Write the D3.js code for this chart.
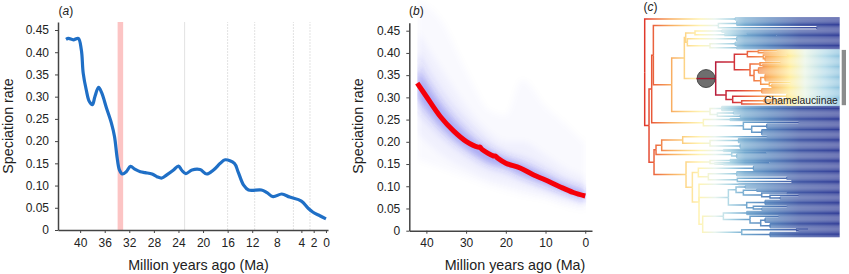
<!DOCTYPE html>
<html>
<head>
<meta charset="utf-8">
<script src="https://cdn.jsdelivr.net/npm/d3@7"></script>
<style>
  html, body { margin: 0; padding: 0; background: #fff; }
  svg { display: block; }
  text { font-family: "Liberation Sans", Arial, sans-serif; fill: #222; }
</style>
</head>
<body>
<svg id="chart" width="849" height="274"></svg>
<script>
// panel a, rate through time
const curveAges = [42.3, 41.9, 41.1, 40.3, 39.8, 39.5, 39.0, 38.5, 38.0, 37.6, 37.0, 36.5, 35.7, 34.9, 34.4, 34.0, 33.6, 33.1, 32.5, 31.8, 31.1, 30.2, 29.4, 28.3, 27.5, 26.7, 25.9, 24.8, 24.0, 23.5, 22.8, 21.8, 20.5, 19.4, 18.3, 17.2, 16.4, 14.9, 14.3, 13.4, 12.6, 10.5, 9.6, 8.6, 7.2, 5.9, 4.0, 2.9, 2.1, 1.0, 0];
const curveRates = [.429, .431, .428, .431, .405, .353, .315, .289, .282, .300, .321, .309, .274, .240, .210, .165, .135, .126, .131, .143, .137, .131, .129, .126, .120, .117, .124, .135, .144, .135, .127, .135, .136, .126, .135, .150, .158, .150, .131, .101, .090, .090, .084, .075, .081, .074, .065, .049, .040, .032, .025];
const epochLines = [23, 16, 11.6, 5.3, 2.6];
const eotBand = [33.9, 33.0];
const aTicks = [40, 36, 32, 28, 24, 20, 16, 12, 8, 4, 2, 0];

// panel b, median and nested density bands
const medianAges = [42.3, 40, 36.5, 33.1, 30, 27, 26.5, 26, 23.1, 22.6, 22, 20, 16.4, 13.1, 10, 6.4, 3, 0];
const medianRates = [.332, .302, .257, .224, .201, .188, .188, .183, .168, .168, .163, .152, .141, .126, .114, .099, .086, .078];
const bandAges = [42.3, 36, 30, 24, 20, 16, 10, 5, 0];
const bandUpper = [
  [.52, .47, .36, .27, .26, .34, .28, .24, .197],
  [.45, .36, .28, .22, .20, .20, .17, .14, .12],
  [.40, .31, .245, .195, .175, .165, .14, .115, .10],
  [.365, .28, .22, .18, .163, .15, .125, .104, .088]
];
const bandLower = [
  [.16, .14, .12, .10, .09, .08, .07, .055, .046],
  [.22, .17, .14, .115, .105, .095, .08, .065, .055],
  [.27, .21, .17, .14, .13, .115, .095, .08, .065],
  [.30, .23, .185, .152, .142, .125, .104, .086, .07]
];
const bTicks = [40, 30, 20, 10, 0];
const rateTicks = [0, .05, .10, .15, .20, .25, .30, .35, .40, .45];

// panel c, tree: [depth, ...kids], [depth, n] is n tips from one node
const tipDepth = 629;
const chamelauciinae = [257,
  [313,
    [352, [385, [440, 2], [400, 2]], [400, [470, 2], [405, 5]]],
    [360, [390, [450, 2], [398, 3]], [372, [385, 6], [392, [405, 7], [418, [480, 2], [425, 4]]]]]],
  [288, [395, 5],
    [308, [470, 5], [335, [400, 3], [470, 3]]]]
];
const cladeE = [167,
  [195, [275, 3], [285, [350, 2], [440, 1]]],
  [172, [320, 5], [240, [315, 4], [320, 3]]]
];
const cladeJ = [125,
  [163, cladeE, [200, chamelauciinae]],
  [240, [275, 5], [262, [310, 3], [330, 3]]]
];
const cladeD = [220, [300, 3], [340, [505, 2], [365, [410, 5], [395, 6]]]];
const cladeF = [78,
  [95, [158, [410, 2], [240, [325, 5], [330, 5]]], [280, 3]],
  [305, [410, 1], [320, 5]]
];
const cladeL = [207,
  [325, 2],
  [295,
    [318, [345, 3], [340, [380, 3], [395, [470, 2], [420, [505, 2], [450, 3]]]]],
    [350, [405, 5], [370, [470, 2], [395, 3]]]],
  [218,
    [280, [350, 4], [360, [445, 2], [392, [405, 5], [420, 5]]]],
    [335, [500, [535, 1], [505, 2]], [420, 5]]]
];
const cladeK = [168,
  [240, [300, 3], [255, [418, 1], [280, 2]]],
  [187,
    [205, [370, 5], [235, [320, 5], [322, [470, 3], [485, 3]]]],
    cladeL]
];
const treeData = [44,
  [315, 3],
  [57,
    [65, [70, [265, [320, 5], [560, 3]], cladeJ], cladeD],
    [72, cladeF, cladeK]]
];
const circleDepth = 228;
const mainStops = [[645, "#e0392c"], [655, "#ec6a40"], [670, "#f8a95e"], [685, "#fdd587"], [700, "#fff4b5"], [715, "#e8f4ee"], [730, "#add6e5"], [745, "#74a9cf"], [770, "#5380ba"], [800, "#3f55a3"], [840, "#333f98"]];
const chamStops = [[712, "#b2183b"], [735, "#d4343a"], [750, "#ee6c40"], [770, "#fbb35e"], [790, "#ffee9e"], [805, "#eaf5e6"], [825, "#b6dcea"], [840, "#8fc3de"]];

const svg = d3.select("#chart");
const defs = svg.append("defs");

function drawAxes(g, x, y, xTicks) {
  const xAxis = g.append("g")
    .attr("transform", "translate(0," + y.range()[0] + ")")
    .call(d3.axisBottom(x).tickValues(xTicks).tickSize(3).tickSizeOuter(0).tickPadding(5).tickFormat(d3.format("d")));
  const yAxis = g.append("g")
    .attr("transform", "translate(" + x.range()[0] + ",0)")
    .call(d3.axisLeft(y).tickValues(rateTicks).tickSize(3).tickSizeOuter(0).tickPadding(6)
      .tickFormat(d => d === 0 ? "0" : d3.format(".2f")(d)));
  [xAxis, yAxis].forEach(a => {
    a.selectAll("text").attr("font-size", 12).attr("font-family", "Liberation Sans");
    a.selectAll("path,line").attr("stroke", "#444");
    a.select("path").attr("stroke-width", 1.5);
  });
}

function axisTitles(g, x0, yMid, xMid, letter, letterX) {
  g.append("text").attr("x", xMid).attr("y", 270).attr("text-anchor", "middle")
    .attr("font-size", 14.3).text("Million years ago (Ma)");
  g.append("text").attr("transform", "translate(" + x0 + "," + yMid + ") rotate(-90)")
    .attr("text-anchor", "middle").attr("font-size", 14.3).text("Speciation rate");
  const t = g.append("text").attr("x", letterX).attr("y", 15).attr("font-size", 12);
  t.append("tspan").text("(");
  t.append("tspan").attr("font-style", "italic").text(letter);
  t.append("tspan").text(")");
}

// (a)
const gA = svg.append("g");
const xA = d3.scaleLinear().domain([43.6, -0.33]).range([58, 328]);
const yA = d3.scaleLinear().domain([0, .468]).range([230, 22]);

gA.append("rect")
  .attr("x", xA(eotBand[0])).attr("y", yA.range()[1])
  .attr("width", xA(eotBand[1]) - xA(eotBand[0]))
  .attr("height", yA.range()[0] - yA.range()[1])
  .attr("fill", "#fcc4c4");
gA.selectAll(".epoch").data(epochLines).enter().append("line")
  .attr("class", "epoch")
  .attr("x1", d => xA(d)).attr("x2", d => xA(d))
  .attr("y1", yA.range()[0]).attr("y2", yA.range()[1])
  .attr("stroke", "#e2e2e2").attr("stroke-width", 1)
  .attr("stroke-dasharray", (d, i) => i === 0 ? null : "2,1");

drawAxes(gA, xA, yA, aTicks);

const lineA = d3.line()
  .x((d, i) => xA(curveAges[i]))
  .y(d => yA(d))
  .curve(d3.curveCatmullRom.alpha(.5));
gA.append("path").datum(curveRates)
  .attr("d", lineA).attr("fill", "none")
  .attr("stroke", "#1f6fc6").attr("stroke-width", 3.2).attr("stroke-linejoin", "round");
axisTitles(gA, 12.5, 126, 198.5, "a", 58.5);

// (b)
const gB = svg.append("g");
const xB = d3.scaleLinear().domain([44.3, -1.7]).range([409.3, 592]);
const yB = d3.scaleLinear().domain([0, .468]).range([230.7, 22.7]);

defs.append("filter").attr("id", "fanBlur")
  .attr("x", "-20%").attr("y", "-20%").attr("width", "140%").attr("height", "140%")
  .append("feGaussianBlur").attr("stdDeviation", 3);
defs.append("clipPath").attr("id", "fanClip")
  .append("rect")
  .attr("x", xB(bandAges[0])).attr("width", xB(0) - xB(bandAges[0]) + 1)
  .attr("y", 0).attr("height", 274);

const bandOpacity = [.025, .035, .1, .32];
const fan = gB.append("g").attr("clip-path", "url(#fanClip)");
bandUpper.forEach((upper, k) => {
  const area = d3.area()
    .x((d, i) => xB(bandAges[i]))
    .y0((d, i) => yB(bandLower[k][i]))
    .y1(d => yB(d))
    .curve(d3.curveMonotoneX);
  fan.append("path").datum(upper)
    .attr("d", area)
    .attr("filter", "url(#fanBlur)")
    .attr("fill", "#3c3ce6").attr("fill-opacity", bandOpacity[k]);
});

drawAxes(gB, xB, yB, bTicks);

const lineB = d3.line()
  .x((d, i) => xB(medianAges[i]))
  .y(d => yB(d))
  .curve(d3.curveCatmullRom.alpha(.5));
gB.append("path").datum(medianRates)
  .attr("d", lineB).attr("fill", "none")
  .attr("stroke", "#f5000a").attr("stroke-width", 5);
axisTitles(gB, 363, 126, 515, "b", 409);

// (c)
function addGradient(id, stops) {
  const grad = defs.append("linearGradient").attr("id", id)
    .attr("gradientUnits", "userSpaceOnUse")
    .attr("x1", stops[0][0]).attr("x2", stops[stops.length - 1][0])
    .attr("y1", 0).attr("y2", 0);
  const pos = d3.scaleLinear().domain([stops[0][0], stops[stops.length - 1][0]]).range([0, 1]);
  stops.forEach(s => grad.append("stop").attr("offset", pos(s[0])).attr("stop-color", s[1]));
}
addGradient("treeMain", mainStops);
addGradient("treeCham", chamStops);

const gC = svg.append("g");
const xC = d3.scaleLinear().domain([44, tipDepth]).range([644.7, 839.7]);
const treeTop = 17.3, treeHeight = 220;

const kidsOf = d => {
  if (d.length === 1) return null;
  if (typeof d[1] === "number") return Array.from({ length: d[1] }, () => [tipDepth]);
  return d.slice(1);
};
const root = d3.hierarchy(treeData, kidsOf);
d3.cluster().size([treeHeight, 1]).separation(() => 1)(root);

const chamRoot = root.descendants().find(n => n.data === chamelauciinae);
const chamNodes = new Set(chamRoot.descendants());

const elbow = n => "M" + xC(n.parent.data[0]) + "," + (treeTop + n.parent.x) +
  "V" + (treeTop + n.x) + "H" + xC(n.data[0]);

// the rest of the tree first, the red clade sits on top
const links = root.descendants().filter(n => n.parent);
gC.selectAll(".branch")
  .data(links.slice().sort((a, b) => chamNodes.has(a) - chamNodes.has(b)))
  .enter().append("path")
  .attr("class", "branch")
  .attr("d", elbow)
  .attr("fill", "none")
  .attr("stroke", n => chamNodes.has(n) ? "url(#treeCham)" : "url(#treeMain)")
  .attr("stroke-width", n => n.children ? 1.5 : 1);

const stemNode = chamRoot.parent;
gC.append("circle")
  .attr("cx", xC(circleDepth)).attr("cy", treeTop + stemNode.x).attr("r", 9)
  .attr("fill", "#555").attr("fill-opacity", .85)
  .attr("stroke", "#333").attr("stroke-width", .8);
gC.append("line")
  .attr("x1", xC(200)).attr("x2", xC(chamRoot.data[0]))
  .attr("y1", treeTop + stemNode.x).attr("y2", treeTop + stemNode.x)
  .attr("stroke", "#a5142f").attr("stroke-width", 1.2);

// clade bar and label
const tipsOfCham = chamRoot.leaves();
gC.append("rect")
  .attr("x", 841.7).attr("width", 4.3)
  .attr("y", treeTop + tipsOfCham[0].x)
  .attr("height", tipsOfCham[tipsOfCham.length - 1].x - tipsOfCham[0].x)
  .attr("fill", "#8c8c8c");
gC.append("text").attr("x", 764).attr("y", 104).attr("font-size", 10.3).text("Chamelauciinae");
const tc = gC.append("text").attr("x", 643.5).attr("y", 11).attr("font-size", 12);
tc.append("tspan").text("(");
tc.append("tspan").attr("font-style", "italic").text("c");
tc.append("tspan").text(")");
</script>
</body>
</html>
